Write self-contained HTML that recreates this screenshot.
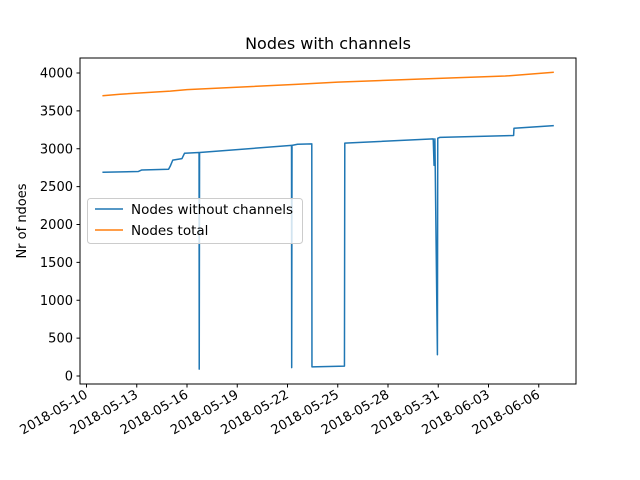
<!DOCTYPE html>
<html><head><meta charset="utf-8"><style>
body{margin:0;background:#fff}
svg{display:block;font-family:"DejaVu Sans","Liberation Sans",sans-serif}
</style></head><body>
<svg id="chart" width="640" height="480">
<rect x="0" y="0" width="640" height="480" fill="#fff"/>
<text x="328" y="49" font-size="16" text-anchor="middle">Nodes with channels</text>
<g id="plot"></g>
<rect x="80" y="58" width="496" height="326" fill="none" stroke="#000" stroke-width="1"/>
<g id="xticks"></g><g id="yticks"></g>
<text transform="translate(26,221) rotate(-90)" font-size="13" text-anchor="middle">Nr of ndoes</text>
<g>
<rect x="87.5" y="198.5" width="215" height="45" rx="3" fill="#fff" fill-opacity="0.8" stroke="#ccc"/>
<line x1="95" y1="209" x2="123" y2="209" stroke="#1f77b4" stroke-width="1.5"/>
<text x="131" y="214" font-size="13.5">Nodes without channels</text>
<line x1="95" y1="230" x2="123" y2="230" stroke="#ff7f0e" stroke-width="1.5"/>
<text x="131" y="235" font-size="13.5">Nodes total</text>
</g>
</svg>
<script>
// days since 2018-05-10
const blueDays = [0.95,3.1,3.3,4.9,5.0,5.15,5.7,5.85,6.72,6.73,6.75,12.24,12.25,12.27,12.6,13.45,13.46,15.4,15.42,20.7,20.75,20.8,20.95,20.97,21.1,25.5,25.52,27.9];
const blueVals = [2690,2700,2720,2730,2770,2850,2870,2940,2950,90,2950,3045,110,3045,3060,3065,120,130,3075,3130,2780,3130,280,3140,3150,3175,3270,3305];
const orangeDays = [0.95,2,5,6,12.5,15,20,25,27.9];
const orangeVals = [3700,3720,3760,3780,3850,3880,3920,3960,4010];
const yTicks = [0,500,1000,1500,2000,2500,3000,3500,4000];
const xTickDays = [0,3,6,9,12,15,18,21,24,27];
const xTickLabels = ["2018-05-10","2018-05-13","2018-05-16","2018-05-19","2018-05-22","2018-05-25","2018-05-28","2018-05-31","2018-06-03","2018-06-06"];
const NS="http://www.w3.org/2000/svg";
const xs=d=>86.5+d*16.75;
const ys=v=>376-v*(303/4000);
function el(t,a,p){const e=document.createElementNS(NS,t);for(const k in a)e.setAttribute(k,a[k]);p.appendChild(e);return e;}
const plot=document.getElementById('plot');
function line(days,vals,color,name){
  const d=days.map((x,i)=>(i?'L':'M')+xs(x).toFixed(2)+','+ys(vals[i]).toFixed(2)).join('');
  const p=el('path',{d:d,fill:'none',stroke:color,'stroke-width':1.5,'stroke-linejoin':'round'},plot);
  
  
}
line(blueDays,blueVals,'#1f77b4','series-nodes-without-channels');
line(orangeDays,orangeVals,'#ff7f0e','series-nodes-total');
const yg=document.getElementById('yticks');
yTicks.forEach(v=>{
  const y=ys(v);
  const l=el('line',{x1:76.5,x2:80,y1:y,y2:y,stroke:'#000'},yg);
  
  
  const t=el('text',{x:73,y:y+4.5,'font-size':13,'text-anchor':'end'},yg);
  t.textContent=v;
  
  
});
const xg=document.getElementById('xticks');
xTickDays.forEach((d,i)=>{
  const x=xs(d);
  const l=el('line',{x1:x,x2:x,y1:384,y2:387.5,stroke:'#000'},xg);
  
  
  const t=el('text',{transform:`translate(${x+2},${397}) rotate(-30)`,'font-size':13,'text-anchor':'end'},xg);
  t.textContent=xTickLabels[i];
  
  
});
</script>
</body></html>
